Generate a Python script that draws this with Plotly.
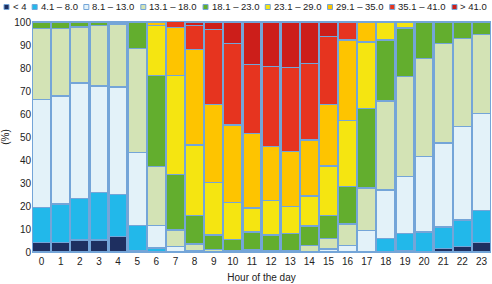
import plotly.graph_objects as go

hours = [str(h) for h in range(24)]
labels = ["< 4", "4.1 – 8.0", "8.1 – 13.0", "13.1 – 18.0", "18.1 – 23.0",
          "23.1 – 29.0", "29.1 – 35.0", "35.1 – 41.0", "> 41.0"]
colors = ["#1e2f60", "#22b8ea", "#e3f2f9", "#d3e3b5", "#63ae2e",
          "#f5e511", "#fec400", "#e6341f", "#cc1e1a"]

N = None
lt4   = [4.1, 4.1, 5.2, 5.2, 6.7, 0.7, N, N, N, N, N, N, N, N, N, N, N, N, N, 0.7, N, 1.5, 2.3, 4.1]
b4_8  = [15.2, 16.7, 18.1, 20.7, 18.4, 10.9, 1.7, N, N, N, N, N, N, N, N, N, N, N, 6.0, 7.3, 8.7, 9.4, 11.7, 13.9]
b8_13 = [47.0, 47.1, 50.2, 46.3, 46.7, 31.6, 9.8, 2.5, 0.7, 0.3, N, N, N, N, N, 1.3, 2.9, 9.4, 21.0, 24.8, 32.7, 36.5, 40.5, 42.2]
b13_18 = [30.8, 29.2, 24.3, 26.3, 27.3, 45.3, 25.7, 7.0, 2.8, 0.7, 0.7, 0.9, 0.7, 0.7, 2.9, 4.7, 9.2, 18.4, 38.6, 43.4, 42.8, 43.3, 38.2, 34.3]
b18_23 = [2.9, 2.9, 2.2, 1.5, 0.9, 11.5, 39.5, 24.3, 12.5, 6.4, 4.7, 7.8, 6.7, 7.3, 8.4, 10.0, 16.4, 34.7, 26.6, 21.2, 15.8, 9.3, 7.3, 5.5]
b23_29 = [N, N, N, N, N, N, 21.7, 42.9, 30.5, 22.7, 16.1, 10.5, 15.0, 11.9, 13.1, 21.4, 28.8, 28.8, 7.8, 2.6, N, N, N, N]
b29_35 = [N, N, N, N, N, N, 1.6, 20.8, 41.6, 34.1, 33.7, 32.3, 23.5, 23.7, 24.3, 26.8, 34.9, 8.7, N, N, N, N, N, N]
b35_41 = [N, N, N, N, N, N, N, 2.6, 10.4, 32.5, 35.4, 29.9, 34.8, 36.6, 33.3, 29.6, 7.8, N, N, N, N, N, N, N]
gt41  = [N, N, N, N, N, N, N, N, 1.5, 3.3, 9.4, 18.6, 19.3, 19.8, 18.0, 6.2, N, N, N, N, N, N, N, N]
series = [lt4, b4_8, b8_13, b13_18, b18_23, b23_29, b29_35, b35_41, gt41]

yticks = [0, 10, 20, 30, 40, 50, 60, 70, 80, 90, 100]

OUTLINE = "#74a5d8"
FONT = "Liberation Sans, Arial, sans-serif"
W, H = 492, 284
ML, MR, MT, MB = 32, 1, 22, 32

fig = go.Figure()
for name, vals, col in zip(labels, series, colors):
    fig.add_trace(go.Bar(x=hours, y=vals, name=name, marker_color=col,
                         marker_line_color=OUTLINE, marker_line_width=1.4,
                         showlegend=False))

# manual compact legend (shapes + text)
cw = {"<": .584, ">": .584, " ": .278, ".": .278, "–": .556}
def tw(s, size):
    return sum(cw.get(c, .556) for c in s) * size

pw = W - ML - MR
ph = H - MT - MB
fs = 9.5
sq = 5
x = 4.0
gap = 8.2
ycen = 7
annotations = []
shapes = []
for name, col in zip(labels, colors):
    x0 = x
    shapes.append(dict(type="rect", xref="paper", yref="paper",
                       x0=(x0 - ML) / pw, x1=(x0 + sq - ML) / pw,
                       y0=(H - MB - (ycen + sq / 2)) / ph, y1=(H - MB - (ycen - sq / 2)) / ph,
                       fillcolor=col, line=dict(color=OUTLINE, width=1)))
    tx = x0 + sq + 1.5
    annotations.append(dict(text=name, xref="paper", yref="paper",
                            x=(tx - ML) / pw, y=(H - MB - ycen) / ph,
                            xanchor="left", yanchor="middle", showarrow=False,
                            font=dict(size=fs, color="#222", family=FONT)))
    x = tx + tw(name, fs) + gap

fig.update_layout(
    barmode="stack", bargap=0.05,
    width=W, height=H, margin=dict(l=ML, r=MR, t=MT, b=MB),
    paper_bgcolor="white", plot_bgcolor="white",
    font=dict(family=FONT, size=10, color="#222"),
    annotations=annotations, shapes=shapes,
    xaxis=dict(title=dict(text="Hour of the day", font=dict(size=10), standoff=7),
               tickfont=dict(size=10), showline=True, mirror=True,
               linecolor=OUTLINE, linewidth=1, showgrid=False, ticks=""),
    yaxis=dict(title=dict(text="(%)", font=dict(size=10), standoff=6),
               range=[0, 100], tickvals=yticks, tickfont=dict(size=10),
               showgrid=False, zeroline=False, ticks=""),
)
fig.write_html("out.html", config={"displayModeBar": False},
               post_script="document.body.style.margin='0';document.body.style.overflow='hidden';")
